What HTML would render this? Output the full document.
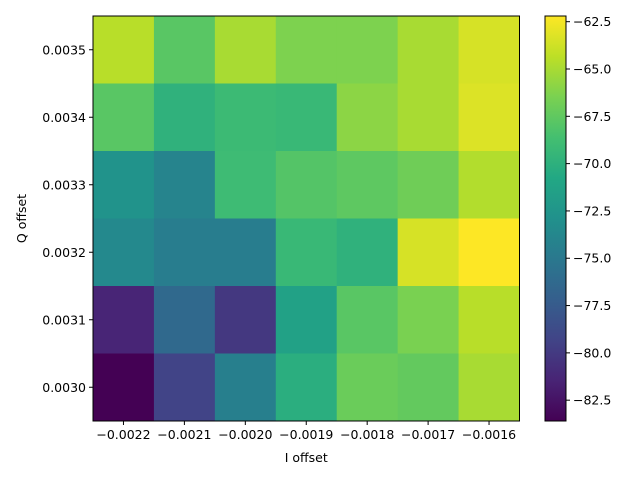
<!DOCTYPE html>
<html><head><meta charset="utf-8"><style>body{margin:0;background:#fff}svg{display:block;font-family:"DejaVu Sans","Liberation Sans",sans-serif}</style></head>
<body>
<svg id="chart" width="640" height="480" viewBox="0 0 640 480" xmlns="http://www.w3.org/2000/svg"></svg>
<script>
const xCategories=[-0.0022,-0.0021,-0.0020,-0.0019,-0.0018,-0.0017,-0.0016];
const yCategories=[0.0035,0.0034,0.0033,0.0032,0.0031,0.0030];
const row0035=[-64.5,-67.8,-65.0,-66.4,-66.4,-65.0,-63.5];
const row0034=[-67.8,-69.9,-69.1,-69.3,-65.9,-65.0,-63.3];
const row0033=[-72.7,-74.0,-69.0,-68.0,-67.6,-66.9,-64.7];
const row0032=[-73.6,-74.6,-74.6,-69.3,-69.9,-63.5,-62.2];
const row0031=[-81.4,-76.3,-80.1,-71.4,-67.8,-66.5,-64.5];
const row0030=[-83.6,-79.3,-74.4,-70.2,-67.1,-67.4,-65.0];
const xTickLabels=["−0.0022","−0.0021","−0.0020","−0.0019","−0.0018","−0.0017","−0.0016"];
const yTickLabels=["0.0035","0.0034","0.0033","0.0032","0.0031","0.0030"];
const cbTicks=[-62.5,-65.0,-67.5,-70.0,-72.5,-75.0,-77.5,-80.0,-82.5];
const rows=[row0035,row0034,row0033,row0032,row0031,row0030];
const NS="http://www.w3.org/2000/svg";
const svg=document.getElementById('chart');
const L=93,R=519.5,T=16,B=421,FS=12.5;
const vmin=Math.min(...rows.flat()),vmax=Math.max(...rows.flat());
const vir=["#440154","#482475","#414487","#355f8d","#2a788e","#21918c","#22a884","#44bf70","#7ad151","#bddf26","#fde725"];
function hex(h){return [1,3,5].map(i=>parseInt(h.substr(i,2),16));}
function color(v){let t=(v-vmin)/(vmax-vmin);t=Math.max(0,Math.min(1,t));const p=t*10,i=Math.min(9,Math.floor(p)),f=p-i;const a=hex(vir[i]),b=hex(vir[i+1]);return 'rgb('+a.map((x,k)=>Math.round(x+(b[k]-x)*f)).join(',')+')';}
const cw=(R-L)/xCategories.length,ch=(B-T)/yCategories.length;
function xPos(i){return L+i*cw;}function yPos(j){return T+j*ch;}
function el(tag,attrs,parent){const e=document.createElementNS(NS,tag);for(const k in attrs)e.setAttribute(k,attrs[k]);(parent||svg).appendChild(e);return e;}
rows.forEach((r,j)=>r.forEach((v,i)=>{const c=el('rect',{x:xPos(i),y:yPos(j),width:cw+0.5,height:ch+0.5,fill:color(v)});

}));
const frame=el('rect',{x:L,y:T,width:R-L,height:B-T,fill:'none',stroke:'#000','stroke-width':1});


xTickLabels.forEach((s,i)=>{const x=xPos(i)+cw/2;el('line',{x1:x,x2:x,y1:B,y2:B+4,stroke:'#000'});const t=el('text',{x:x,y:B+18,'font-size':FS,'text-anchor':'middle'});t.textContent=s;

});
yTickLabels.forEach((s,j)=>{const y=yPos(j)+ch/2;el('line',{x1:L-4,x2:L,y1:y,y2:y,stroke:'#000'});const t=el('text',{x:L-7,y:y+4.5,'font-size':FS,'text-anchor':'end'});t.textContent=s;

});
const xt=el('text',{x:(L+R)/2,y:462,'font-size':FS,'text-anchor':'middle'});xt.textContent='I offset';


const yt=el('text',{x:0,y:0,'font-size':FS,'text-anchor':'middle',transform:'translate(26,'+((T+B)/2)+') rotate(-90)'});yt.textContent='Q offset';


const CL=545,CR=566;
const defs=el('defs',{});const g=el('linearGradient',{id:'vg',x1:0,y1:1,x2:0,y2:0},defs);
vir.forEach((c,i)=>el('stop',{offset:i/10,'stop-color':c},g));
const cb=el('rect',{x:CL,y:T,width:CR-CL,height:B-T,fill:'url(#vg)',stroke:'#000','stroke-width':1});


function cbY(v){return T+(vmax-v)/(vmax-vmin)*(B-T);}
cbTicks.forEach(v=>{const y=cbY(v);el('line',{x1:CR,x2:CR+4,y1:y,y2:y,stroke:'#000'});const t=el('text',{x:CR+7,y:y+4.5,'font-size':FS});t.textContent='−'+Math.abs(v).toFixed(1);

});
</script>
</body></html>
